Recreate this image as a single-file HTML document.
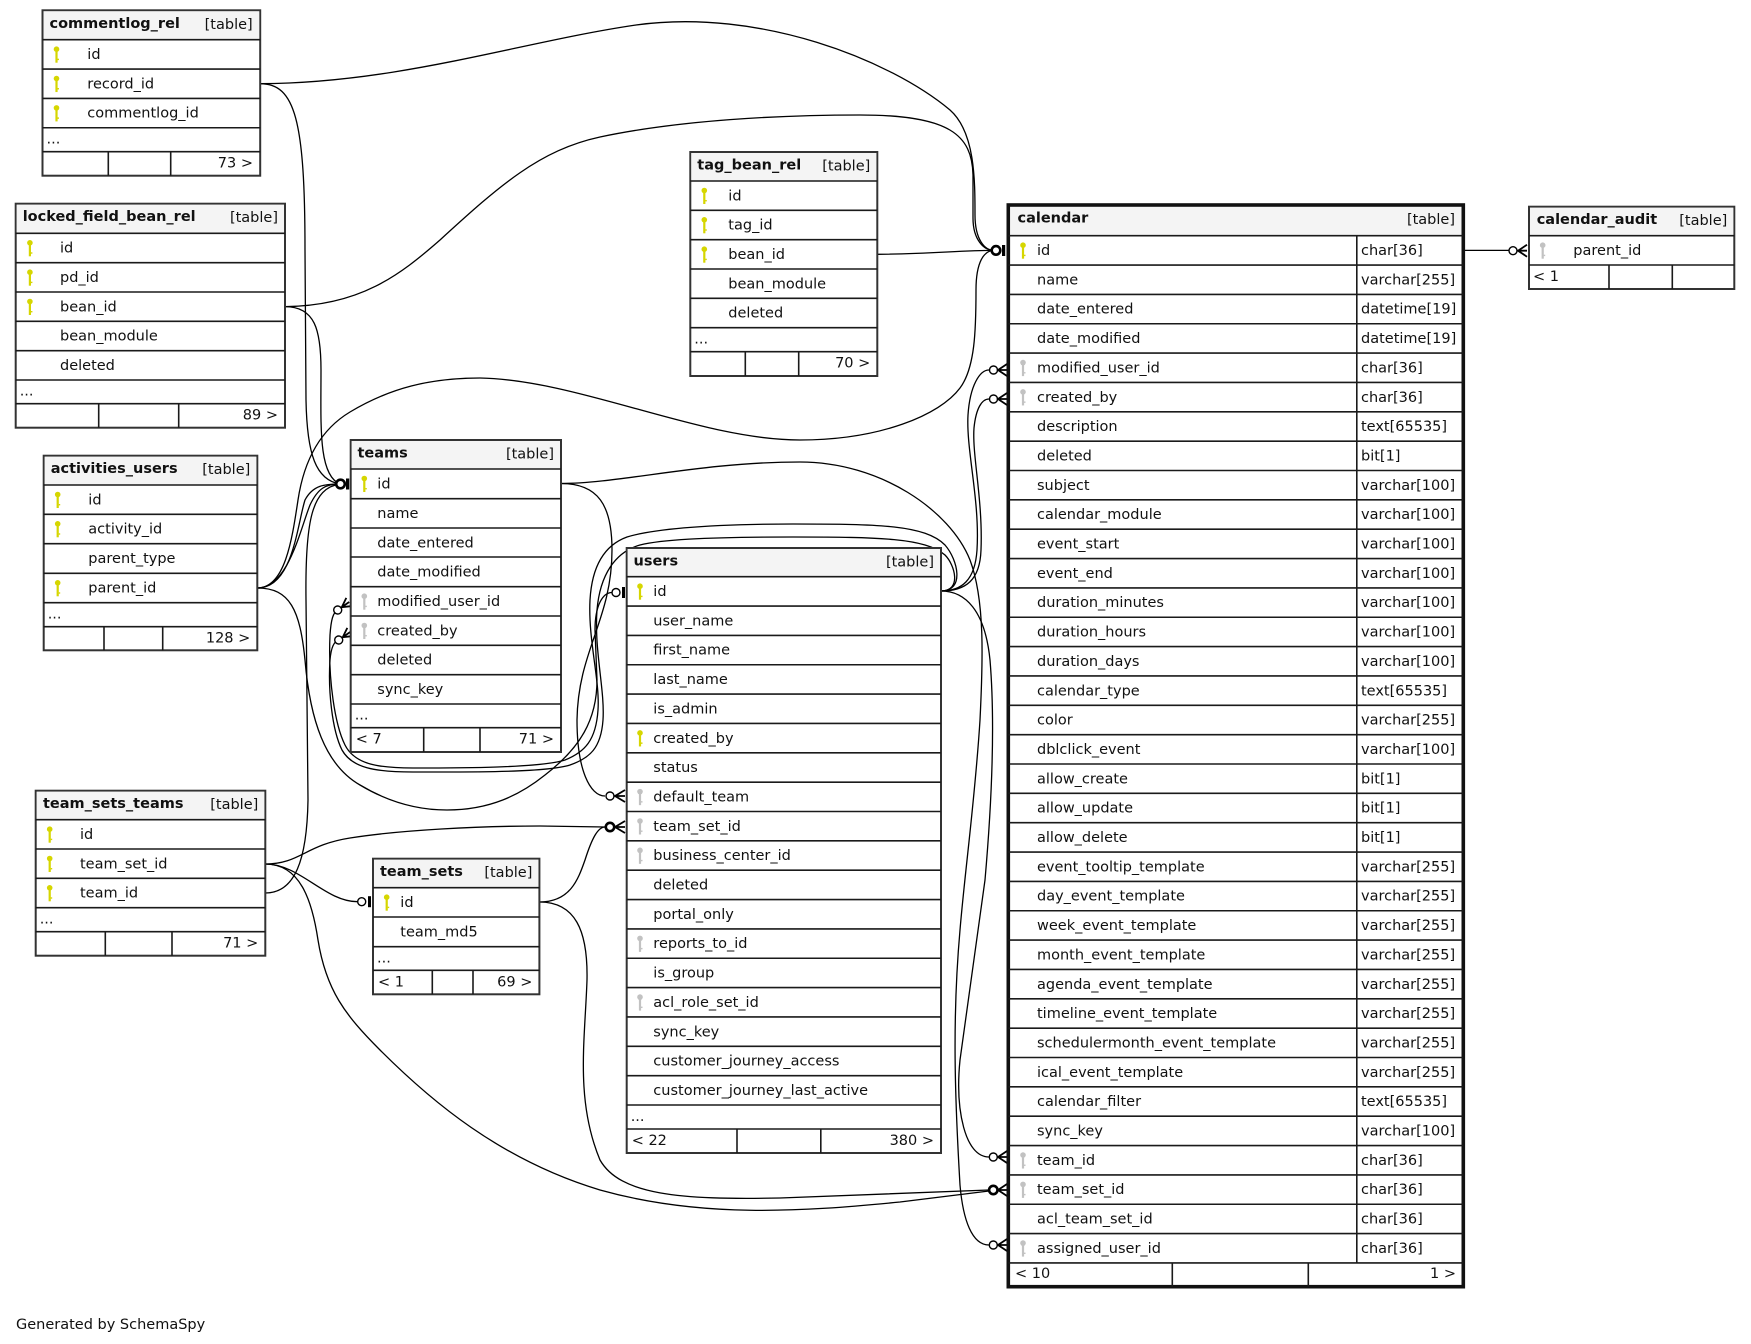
<!DOCTYPE html>
<html><head><meta charset="utf-8"><style>
html,body{margin:0;padding:0;background:#fff;}
svg{display:block;}
text{font-family:"DejaVu Sans","Liberation Sans",sans-serif;font-size:14.5px;fill:#111;}
.b{font-weight:bold;}
.e{text-anchor:end;}
.ln{fill:none;stroke:#000;stroke-width:1.3;}
.sep{fill:none;stroke:#1a1a1a;stroke-width:1.6;}
.box{fill:#fff;stroke:#333;stroke-width:2;}
.hd{fill:#f4f4f4;stroke:none;}
.mk{fill:#fff;stroke:#000;stroke-width:1.4;}
.cr{fill:none;stroke:#000;stroke-width:1.8;}
</style></head><body>
<svg width="1751" height="1344" viewBox="0 0 1751 1344" xmlns="http://www.w3.org/2000/svg">
<defs>
<g id="ky"><circle cx="0" cy="0" r="2.8" fill="#d6d600"/><rect x="-1.1" y="2" width="2.2" height="11.5" fill="#d6d600"/><rect x="1" y="9.5" width="1.5" height="1.4" fill="#d6d600"/></g>
<g id="kg"><circle cx="0" cy="0" r="2.8" fill="#c2c2c2"/><rect x="-1.1" y="2" width="2.2" height="11.5" fill="#c2c2c2"/><rect x="1" y="9.5" width="1.5" height="1.4" fill="#c2c2c2"/></g>
</defs>
<rect x="0" y="0" width="1751" height="1344" fill="#fff"/>

<!-- connectors -->
<path class="ln" d="M260.2,83.7 C400,83 520,42 636,25 C760,8 890,60 950,110 C975,132 975,180 975,215 C975,240 985,250.4 994,250.4"/>
<path class="ln" d="M285,306.6 C360,306 400,275 440,240 C500,185 540,150 600,137 C680,120 780,115 860,115 C950,115 972,135 973,175 L973,218 C973,240 984,250.4 994,250.4"/>
<path class="ln" d="M877.3,254.3 C930,254 960,250.4 994,250.4"/>
<path class="ln" d="M257.3,588 C285,588 292,540 298,500 C304,460 320,430 350,412 C390,388 430,378 480,378 C580,380 700,440 800,440 C880,440 940,415 960,388 C975,368 976,330 976,290 C976,262 984,250.4 994,250.4"/>
<path class="ln" d="M257.3,588 C288,588 300,530 310,505 C318,488 326,484 340,484"/>
<path class="ln" d="M257.3,588 C293,588 297,525 305,500 C313,485 325,484 340,484"/>
<path class="ln" d="M260.2,83.7 C295,83.7 305,120 305,250 L306,400 C307,455 316,480 340,484"/>
<path class="ln" d="M285,306.6 C315,306.6 321,330 321,370 C321,425 318,475 340,484"/>
<path class="ln" d="M265.3,893 C295,893 307,860 308,800 L306,600 C305,520 312,488 340,484"/>
<path class="ln" d="M257.3,588 C290,588 300,610 305,660 C310,720 325,765 360,785 C390,803 420,810 447,810 C490,810 520,795 545,775 C580,748 597,720 597,680 L595,630 C595,605 603,592.5 612,592.5"/>
<path class="ln" d="M561,483.5 C598,483.5 612,505 612,550 C612,620 578,650 577,720 C577,770 590,796 605,796"/>
<path class="ln" d="M941,591 C965,591 958,560 945,545 C925,525 880,524 793,524 C700,524 650,530 627,537 C605,545 592,565 590,600 C588,640 600,680 598,710 C596,740 585,752 565,760 C540,768 460,768 413,768 C380,768 355,765 345,745 C335,725 328,680 330,635 C331,620 333,612 338,610"/>
<path class="ln" d="M941,591 C962,591 955,565 945,555 C925,538 880,537 793,537 C700,537 660,540 640,545 C615,552 600,575 597,610 C594,650 605,690 603,720 C601,748 590,758 570,765 C545,773 460,772 413,772 C375,772 352,768 342,750 C332,730 328,690 330,660 C331,648 334,641 339,640"/>
<path class="ln" d="M941,591 C962,591 975,580 977,550 C980,500 966,450 968,415 C970,385 980,370 989,370"/>
<path class="ln" d="M941,591 C966,591 980,580 981,550 C983,500 972,455 974,428 C976,408 982,399 989,399"/>
<path class="ln" d="M941,591 C965,591 985,610 990,660 C995,720 992,800 985,880 L960,1060 C955,1110 965,1157 989,1157"/>
<path class="ln" d="M561,483.5 C620,483.5 700,462 800,462 C880,462 950,510 970,560 C985,600 983,660 980,720 C975,800 965,870 960,930 C952,1020 955,1100 960,1185 C963,1220 972,1245 989,1245"/>
<path class="ln" d="M265.3,864 C300,864 325,901.7 357.5,901.7"/>
<path class="ln" d="M265.3,864 C300,864 305,845 350,838 C400,830 480,826 540,826 L605,827"/>
<path class="ln" d="M265.3,864 C300,864 312,900 318,940 C326,990 345,1015 380,1050 C430,1100 500,1160 600,1190 C700,1218 800,1212 900,1202 L989,1191"/>
<path class="ln" d="M539.4,902 C570,902 578,880 585,860 C592,838 598,827 605,827"/>
<path class="ln" d="M539.4,902 C575,902 588,930 587,980 C585,1040 575,1100 600,1160 C620,1195 680,1200 780,1198 L989,1190"/>
<path class="ln" d="M1463.3,250.4 L1509,250.4"/>

<!-- markers -->
<circle class="mk" cx="996" cy="250.4" r="4.3" style="stroke-width:2.6"/><rect x="1002" y="245" width="3.2" height="11" fill="#000"/>
<circle class="mk" cx="340.5" cy="484" r="4.3" style="stroke-width:2.6"/><rect x="346" y="478.5" width="3.2" height="11" fill="#000"/>
<circle class="mk" cx="616" cy="592.5" r="4"/><rect x="622" y="587" width="3" height="11" fill="#000"/>
<circle class="mk" cx="361.7" cy="901.7" r="4"/><rect x="368" y="896.2" width="3" height="11" fill="#000"/>

<circle class="mk" cx="1513" cy="250.7" r="4"/><path class="cr" d="M1527,244.7 L1518,250.7 L1527,256.7 M1518,250.7 L1527,250.7"/>
<circle class="mk" cx="993.5" cy="370" r="4"/><path class="cr" d="M1007,364 L998,370 L1007,376 M998,370 L1007,370"/>
<circle class="mk" cx="993.5" cy="399" r="4"/><path class="cr" d="M1007,393 L998,399 L1007,405 M998,399 L1007,399"/>
<circle class="mk" cx="993.3" cy="1157" r="4"/><path class="cr" d="M1007,1151 L998,1157 L1007,1163 M998,1157 L1007,1157"/>
<circle class="mk" cx="993.3" cy="1190" r="4.2" style="stroke-width:2.6"/><path class="cr" d="M1007,1184 L998,1190 L1007,1196 M998,1190 L1007,1190"/>
<circle class="mk" cx="993.3" cy="1245" r="4"/><path class="cr" d="M1007,1239 L998,1245 L1007,1251 M998,1245 L1007,1245"/>
<circle class="mk" cx="610" cy="796" r="4"/><path class="cr" d="M625,790 L615,796 L625,802 M615,796 L625,796"/>
<circle class="mk" cx="610" cy="827" r="4.2" style="stroke-width:2.6"/><path class="cr" d="M625,821 L615,827 L625,833 M615,827 L625,827"/>
<g transform="translate(337.7,610) rotate(-35)"><circle class="mk" cx="0" cy="0" r="4"/><path class="cr" d="M14,-5 L5,0 L14,5 M5,0 L14,0"/></g>
<g transform="translate(338.7,640) rotate(-35)"><circle class="mk" cx="0" cy="0" r="4"/><path class="cr" d="M14,-5 L5,0 L14,5 M5,0 L14,0"/></g>

<!-- commentlog_rel -->
<rect class="box" x="42.5" y="10.3" width="217.7" height="165.4"/>
<rect class="hd" x="43.5" y="11.3" width="215.7" height="28.4"/>
<path class="sep" d="M42.5,39.7H260.2M42.5,69.05H260.2M42.5,98.4H260.2M42.5,127.75H260.2M42.5,151.7H260.2M108.3,151.7V175.7M170.7,151.7V175.7"/>
<text class="b" x="49.5" y="27.8">commentlog_rel</text><text class="e" x="252.7" y="28.8">[table]</text>
<use href="#ky" x="56.5" y="49.2"/><text x="87.3" y="59">id</text>
<use href="#ky" x="56.5" y="78.55"/><text x="87.3" y="88.35">record_id</text>
<use href="#ky" x="56.5" y="107.9"/><text x="87.3" y="117.7">commentlog_id</text>
<text x="46.5" y="143.5">...</text>
<text class="e" x="253" y="167.5">73 &gt;</text>

<!-- locked_field_bean_rel -->
<rect class="box" x="15.7" y="203.7" width="269.3" height="224"/>
<rect class="hd" x="16.7" y="204.7" width="267.3" height="28.6"/>
<path class="sep" d="M15.7,233.3H285M15.7,262.7H285M15.7,292H285M15.7,321.3H285M15.7,350.7H285M15.7,380H285M15.7,403.7H285M98.7,403.7V427.7M178.7,403.7V427.7"/>
<text class="b" x="22.7" y="221.2">locked_field_bean_rel</text><text class="e" x="278" y="222.2">[table]</text>
<use href="#ky" x="29.9" y="242.8"/><text x="60" y="252.6">id</text>
<use href="#ky" x="29.9" y="272.2"/><text x="60" y="282">pd_id</text>
<use href="#ky" x="29.9" y="301.5"/><text x="60" y="311.3">bean_id</text>
<text x="60" y="340.6">bean_module</text>
<text x="60" y="370">deleted</text>
<text x="19.7" y="395.7">...</text>
<text class="e" x="278" y="419.5">89 &gt;</text>

<!-- tag_bean_rel -->
<rect class="box" x="690.3" y="152" width="187" height="224"/>
<rect class="hd" x="691.3" y="153" width="185" height="28"/>
<path class="sep" d="M690.3,181H877.3M690.3,210.3H877.3M690.3,239.7H877.3M690.3,269H877.3M690.3,298.3H877.3M690.3,327.7H877.3M690.3,351.7H877.3M745.3,351.7V376M798.7,351.7V376"/>
<text class="b" x="697.3" y="169.5">tag_bean_rel</text><text class="e" x="870.3" y="170.5">[table]</text>
<use href="#ky" x="704.3" y="190.5"/><text x="728.3" y="200.3">id</text>
<use href="#ky" x="704.3" y="219.8"/><text x="728.3" y="229.6">tag_id</text>
<use href="#ky" x="704.3" y="249.2"/><text x="728.3" y="259">bean_id</text>
<text x="728.3" y="288.3">bean_module</text>
<text x="728.3" y="317.6">deleted</text>
<text x="694.3" y="343.5">...</text>
<text class="e" x="870.3" y="367.7">70 &gt;</text>

<!-- activities_users -->
<rect class="box" x="43.7" y="455.7" width="213.6" height="194.6"/>
<rect class="hd" x="44.7" y="456.7" width="211.6" height="28.3"/>
<path class="sep" d="M43.7,485H257.3M43.7,514.3H257.3M43.7,543.7H257.3M43.7,573.3H257.3M43.7,602.7H257.3M43.7,626.7H257.3M104,626.7V650.3M162.7,626.7V650.3"/>
<text class="b" x="50.7" y="473.2">activities_users</text><text class="e" x="250.3" y="474.2">[table]</text>
<use href="#ky" x="57.7" y="494.5"/><text x="88.3" y="504.3">id</text>
<use href="#ky" x="57.7" y="523.8"/><text x="88.3" y="533.6">activity_id</text>
<text x="88.3" y="563">parent_type</text>
<use href="#ky" x="57.7" y="582.8"/><text x="88.3" y="592.6">parent_id</text>
<text x="47.7" y="618.5">...</text>
<text class="e" x="250.3" y="642.3">128 &gt;</text>

<!-- teams -->
<rect class="box" x="350.7" y="440" width="210.3" height="312"/>
<rect class="hd" x="351.7" y="441" width="208.3" height="28"/>
<path class="sep" d="M350.7,469H561M350.7,498.7H561M350.7,528H561M350.7,557H561M350.7,586.7H561M350.7,616H561M350.7,645.3H561M350.7,674.7H561M350.7,704H561M350.7,727.7H561M423.7,727.7V752M480,727.7V752"/>
<text class="b" x="357.5" y="457.5">teams</text><text class="e" x="554" y="458.5">[table]</text>
<use href="#ky" x="364.3" y="478.5"/><text x="377.3" y="488.3">id</text>
<text x="377.3" y="518">name</text>
<text x="377.3" y="547.3">date_entered</text>
<text x="377.3" y="576.3">date_modified</text>
<use href="#kg" x="364.3" y="596.2"/><text x="377.3" y="606">modified_user_id</text>
<use href="#kg" x="364.3" y="625.5"/><text x="377.3" y="635.3">created_by</text>
<text x="377.3" y="664.6">deleted</text>
<text x="377.3" y="694">sync_key</text>
<text x="354.7" y="719.5">...</text>
<text x="355.7" y="743.7">&lt; 7</text><text class="e" x="554" y="743.7">71 &gt;</text>

<!-- users -->
<rect class="box" x="626.7" y="548" width="314.3" height="605"/>
<rect class="hd" x="627.7" y="549" width="312.3" height="27.7"/>
<path class="sep" d="M626.7,576.7H941M626.7,606.05H941M626.7,635.4H941M626.7,664.75H941M626.7,694.1H941M626.7,723.45H941M626.7,752.8H941M626.7,782.15H941M626.7,811.5H941M626.7,840.85H941M626.7,870.2H941M626.7,899.55H941M626.7,928.9H941M626.7,958.25H941M626.7,987.6H941M626.7,1016.95H941M626.7,1046.3H941M626.7,1075.65H941M626.7,1105H941M626.7,1129H941M737,1129V1153M820.8,1129V1153"/>
<text class="b" x="633.5" y="565.5">users</text><text class="e" x="934" y="566.5">[table]</text>
<use href="#ky" x="640" y="586.2"/><text x="653.3" y="596">id</text>
<text x="653.3" y="625.35">user_name</text>
<text x="653.3" y="654.7">first_name</text>
<text x="653.3" y="684.05">last_name</text>
<text x="653.3" y="713.4">is_admin</text>
<use href="#ky" x="640" y="732.95"/><text x="653.3" y="742.75">created_by</text>
<text x="653.3" y="772.1">status</text>
<use href="#kg" x="640" y="791.65"/><text x="653.3" y="801.45">default_team</text>
<use href="#kg" x="640" y="821"/><text x="653.3" y="830.8">team_set_id</text>
<use href="#kg" x="640" y="850.35"/><text x="653.3" y="860.15">business_center_id</text>
<text x="653.3" y="889.5">deleted</text>
<text x="653.3" y="918.85">portal_only</text>
<use href="#kg" x="640" y="938.4"/><text x="653.3" y="948.2">reports_to_id</text>
<text x="653.3" y="977.55">is_group</text>
<use href="#kg" x="640" y="997.1"/><text x="653.3" y="1006.9">acl_role_set_id</text>
<text x="653.3" y="1036.25">sync_key</text>
<text x="653.3" y="1065.6">customer_journey_access</text>
<text x="653.3" y="1094.95">customer_journey_last_active</text>
<text x="630.7" y="1121">...</text>
<text x="631.7" y="1145">&lt; 22</text><text class="e" x="934" y="1145">380 &gt;</text>

<!-- team_sets_teams -->
<rect class="box" x="35.7" y="790.7" width="229.6" height="165"/>
<rect class="hd" x="36.7" y="791.7" width="227.6" height="28"/>
<path class="sep" d="M35.7,819.7H265.3M35.7,849H265.3M35.7,878.3H265.3M35.7,907.7H265.3M35.7,931.7H265.3M105.3,931.7V955.7M172,931.7V955.7"/>
<text class="b" x="43" y="808.2">team_sets_teams</text><text class="e" x="258.3" y="809.2">[table]</text>
<use href="#ky" x="49.7" y="829.2"/><text x="80" y="839">id</text>
<use href="#ky" x="49.7" y="858.5"/><text x="80" y="868.3">team_set_id</text>
<use href="#ky" x="49.7" y="887.8"/><text x="80" y="897.6">team_id</text>
<text x="39.7" y="923.5">...</text>
<text class="e" x="258.3" y="947.7">71 &gt;</text>

<!-- team_sets -->
<rect class="box" x="373" y="858.7" width="166.4" height="135.6"/>
<rect class="hd" x="374" y="859.7" width="164.4" height="28"/>
<path class="sep" d="M373,887.7H539.4M373,917H539.4M373,946.7H539.4M373,970.3H539.4M432.3,970.3V994.3M473,970.3V994.3"/>
<text class="b" x="380" y="876.2">team_sets</text><text class="e" x="532.4" y="877.2">[table]</text>
<use href="#ky" x="386.7" y="897.2"/><text x="400.3" y="907">id</text>
<text x="400.3" y="936.3">team_md5</text>
<text x="377" y="962.3">...</text>
<text x="378" y="986.3">&lt; 1</text><text class="e" x="532.4" y="986.3">69 &gt;</text>

<!-- calendar -->
<rect x="1008.3" y="205" width="455" height="1081.7" fill="#fff" stroke="#111" stroke-width="3.6"/>
<rect class="hd" x="1010.3" y="207" width="451" height="28.7"/>
<path class="sep" d="M1008.3,235.7H1463.3M1008.3,265.05H1463.3M1008.3,294.4H1463.3M1008.3,323.75H1463.3M1008.3,353.1H1463.3M1008.3,382.45H1463.3M1008.3,411.8H1463.3M1008.3,441.15H1463.3M1008.3,470.5H1463.3M1008.3,499.85H1463.3M1008.3,529.2H1463.3M1008.3,558.55H1463.3M1008.3,587.9H1463.3M1008.3,617.25H1463.3M1008.3,646.6H1463.3M1008.3,675.95H1463.3M1008.3,705.3H1463.3M1008.3,734.65H1463.3M1008.3,764H1463.3M1008.3,793.35H1463.3M1008.3,822.7H1463.3M1008.3,852.05H1463.3M1008.3,881.4H1463.3M1008.3,910.75H1463.3M1008.3,940.1H1463.3M1008.3,969.45H1463.3M1008.3,998.8H1463.3M1008.3,1028.15H1463.3M1008.3,1057.5H1463.3M1008.3,1086.85H1463.3M1008.3,1116.2H1463.3M1008.3,1145.55H1463.3M1008.3,1174.9H1463.3M1008.3,1204.25H1463.3M1008.3,1233.6H1463.3M1008.3,1262.95H1463.3M1356.8,235.7V1262.95M1172.3,1262.95V1286.7M1308.3,1262.95V1286.7"/>
<text class="b" x="1017.5" y="222.5">calendar</text><text class="e" x="1455" y="224">[table]</text>
<use href="#ky" x="1023" y="245.2"/><text x="1037" y="255">id</text><text x="1361" y="255">char[36]</text>
<text x="1037" y="284.35">name</text><text x="1361" y="284.35">varchar[255]</text>
<text x="1037" y="313.7">date_entered</text><text x="1361" y="313.7">datetime[19]</text>
<text x="1037" y="343.05">date_modified</text><text x="1361" y="343.05">datetime[19]</text>
<use href="#kg" x="1023" y="362.6"/><text x="1037" y="372.4">modified_user_id</text><text x="1361" y="372.4">char[36]</text>
<use href="#kg" x="1023" y="391.95"/><text x="1037" y="401.75">created_by</text><text x="1361" y="401.75">char[36]</text>
<text x="1037" y="431.1">description</text><text x="1361" y="431.1">text[65535]</text>
<text x="1037" y="460.45">deleted</text><text x="1361" y="460.45">bit[1]</text>
<text x="1037" y="489.8">subject</text><text x="1361" y="489.8">varchar[100]</text>
<text x="1037" y="519.15">calendar_module</text><text x="1361" y="519.15">varchar[100]</text>
<text x="1037" y="548.5">event_start</text><text x="1361" y="548.5">varchar[100]</text>
<text x="1037" y="577.85">event_end</text><text x="1361" y="577.85">varchar[100]</text>
<text x="1037" y="607.2">duration_minutes</text><text x="1361" y="607.2">varchar[100]</text>
<text x="1037" y="636.55">duration_hours</text><text x="1361" y="636.55">varchar[100]</text>
<text x="1037" y="665.9">duration_days</text><text x="1361" y="665.9">varchar[100]</text>
<text x="1037" y="695.25">calendar_type</text><text x="1361" y="695.25">text[65535]</text>
<text x="1037" y="724.6">color</text><text x="1361" y="724.6">varchar[255]</text>
<text x="1037" y="753.95">dblclick_event</text><text x="1361" y="753.95">varchar[100]</text>
<text x="1037" y="783.3">allow_create</text><text x="1361" y="783.3">bit[1]</text>
<text x="1037" y="812.65">allow_update</text><text x="1361" y="812.65">bit[1]</text>
<text x="1037" y="842">allow_delete</text><text x="1361" y="842">bit[1]</text>
<text x="1037" y="871.35">event_tooltip_template</text><text x="1361" y="871.35">varchar[255]</text>
<text x="1037" y="900.7">day_event_template</text><text x="1361" y="900.7">varchar[255]</text>
<text x="1037" y="930.05">week_event_template</text><text x="1361" y="930.05">varchar[255]</text>
<text x="1037" y="959.4">month_event_template</text><text x="1361" y="959.4">varchar[255]</text>
<text x="1037" y="988.75">agenda_event_template</text><text x="1361" y="988.75">varchar[255]</text>
<text x="1037" y="1018.1">timeline_event_template</text><text x="1361" y="1018.1">varchar[255]</text>
<text x="1037" y="1047.45">schedulermonth_event_template</text><text x="1361" y="1047.45">varchar[255]</text>
<text x="1037" y="1076.8">ical_event_template</text><text x="1361" y="1076.8">varchar[255]</text>
<text x="1037" y="1106.15">calendar_filter</text><text x="1361" y="1106.15">text[65535]</text>
<text x="1037" y="1135.5">sync_key</text><text x="1361" y="1135.5">varchar[100]</text>
<use href="#kg" x="1023" y="1155.05"/><text x="1037" y="1164.85">team_id</text><text x="1361" y="1164.85">char[36]</text>
<use href="#kg" x="1023" y="1184.4"/><text x="1037" y="1194.2">team_set_id</text><text x="1361" y="1194.2">char[36]</text>
<text x="1037" y="1223.55">acl_team_set_id</text><text x="1361" y="1223.55">char[36]</text>
<use href="#kg" x="1023" y="1243.1"/><text x="1037" y="1252.9">assigned_user_id</text><text x="1361" y="1252.9">char[36]</text>
<text x="1015" y="1278">&lt; 10</text><text class="e" x="1456" y="1278">1 &gt;</text>

<!-- calendar_audit -->
<rect class="box" x="1529" y="206.7" width="205.3" height="82.3"/>
<rect class="hd" x="1530" y="207.7" width="203.3" height="28"/>
<path class="sep" d="M1529,235.7H1734.3M1529,265H1734.3M1609,265V289M1672.3,265V289"/>
<text class="b" x="1536.7" y="224.2">calendar_audit</text><text class="e" x="1727.3" y="225.2">[table]</text>
<use href="#kg" x="1542.7" y="245.2"/><text x="1573.3" y="255">parent_id</text>
<text x="1533" y="281">&lt; 1</text>

<text x="16" y="1329">Generated by SchemaSpy</text>
</svg>
</body></html>
